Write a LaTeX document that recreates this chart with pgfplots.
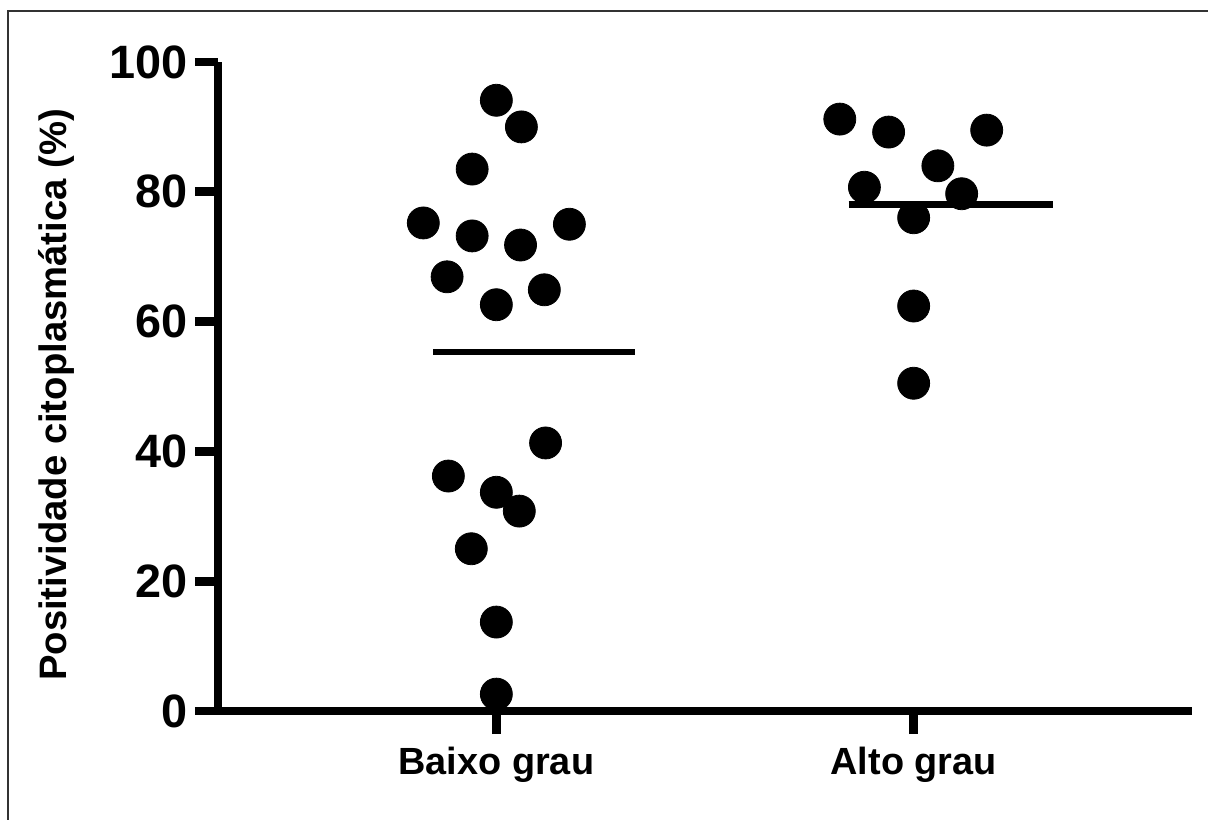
\documentclass[border=0pt]{standalone}
\usepackage{fontspec}
\setmainfont{Liberation Sans}
\usepackage{pgfplots}
\pgfplotsset{compat=1.18}
\begin{document}
\begin{tikzpicture}
\useasboundingbox (0,0) rectangle (604bp,410bp);
\draw[line width=1.3bp, black!80] (4bp,0) -- (4bp,404.5bp) -- (604bp,404.5bp);
\begin{axis}[
  at={(109bp,54.5bp)}, anchor=south west,
  scale only axis, width=487bp, height=324.5bp,
  xmin=0.333, xmax=2.667, ymin=0, ymax=100,
  axis x line*=bottom, axis y line*=left,
  axis line style={line width=4.4bp, black},
  clip=false,
  xtick={1,2}, xticklabels={Baixo grau, Alto grau},
  ytick={0,20,40,60,80,100},
  tick align=outside,
  major tick length=11.5bp,
  tick style={line width=4.4bp, black},
  /pgf/number format/assume math mode=true,
  y tick label style={font=\fontsize{23.5}{23.5}\selectfont\bfseries},
  x tick label style={font=\fontsize{19}{19}\selectfont\bfseries, yshift=-3bp},
  ylabel={Positividade citoplasmática (\%)},
  ylabel style={font=\fontsize{19.2}{19.2}\selectfont\bfseries,
    at={(axis description cs:-0.166,0.487)}, anchor=center},
]
\addplot[only marks, mark=*, mark size=8bp, black] coordinates {
(1.000,94.1) (1.060,90.0) (0.942,83.5) (0.825,75.2) (0.942,73.2)
(1.058,71.8) (1.175,75.0) (0.882,66.9) (1.115,64.9) (1.000,62.6)
(1.118,41.3) (0.885,36.2) (1.000,33.7) (1.055,30.8) (0.940,25.0)
(1.000,13.7) (1.000,2.6)
};
\addplot[only marks, mark=*, mark size=8bp, black] coordinates {
(1.823,91.2) (1.940,89.2) (2.175,89.5) (2.058,84.0) (1.882,80.7)
(2.115,79.7) (2.000,76.0) (2.000,62.4) (2.000,50.5)
};
\addplot[line width=3.4bp, black] coordinates {(0.849,55.3) (1.333,55.3)};
\addplot[line width=3.4bp, black] coordinates {(1.844,78.1) (2.333,78.1)};
\end{axis}
\end{tikzpicture}
\end{document}
